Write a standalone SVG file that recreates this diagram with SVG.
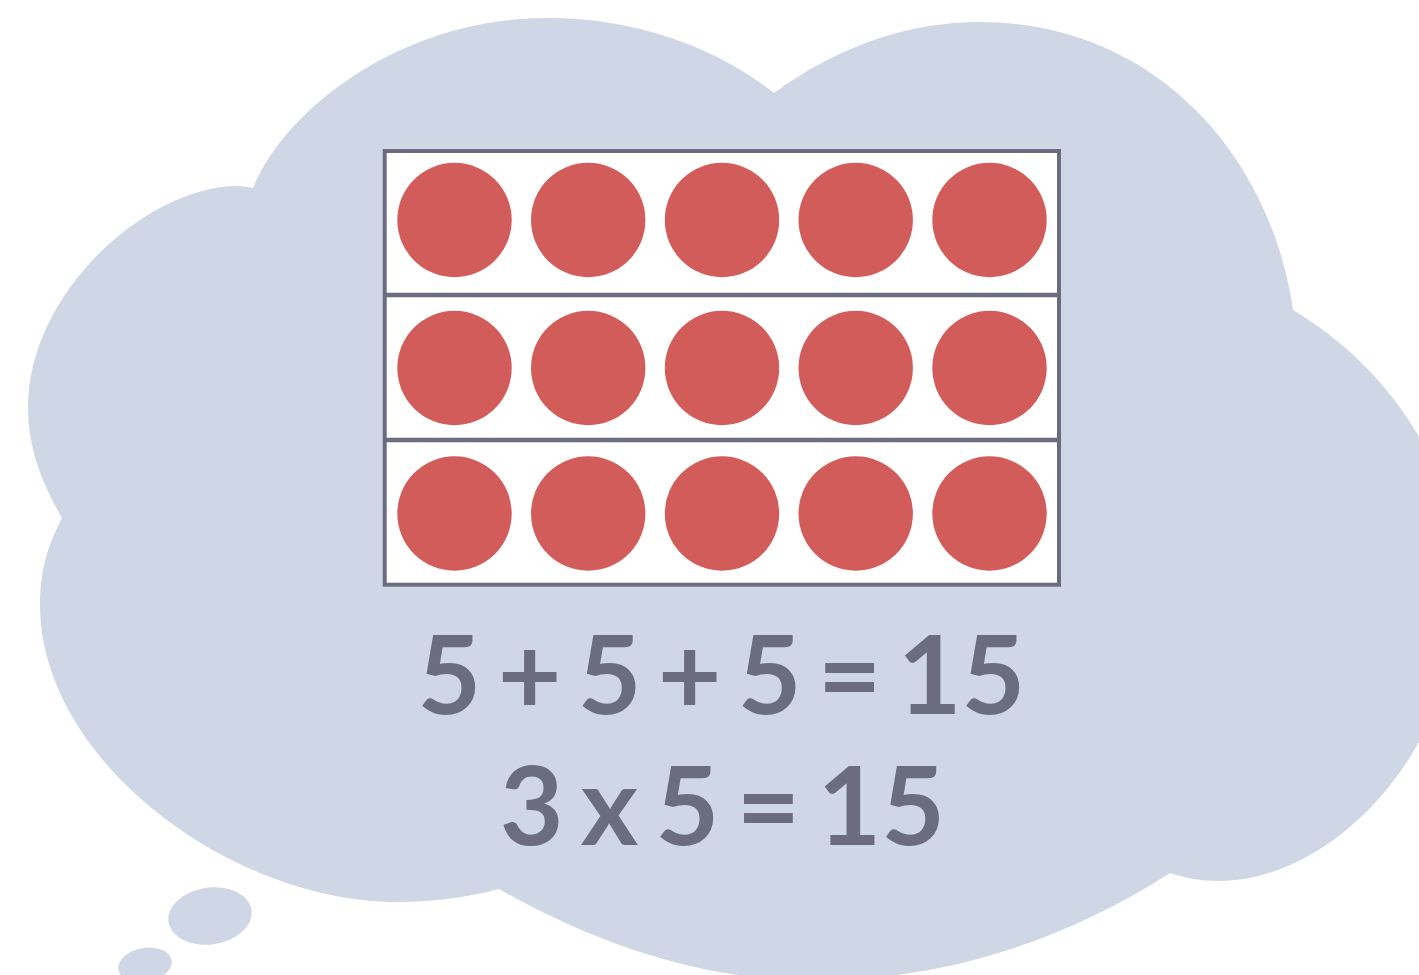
<svg xmlns="http://www.w3.org/2000/svg" width="1419" height="975" viewBox="0 0 1419 975">
<style>
.cloud{fill:#cfd6e5}
.dot{fill:#d25c59}
.frame{fill:#ffffff;stroke:#6b6c81;stroke-width:4}
.sep{stroke:#6b6c81;stroke-width:4.5}
.eq{font-family:Lato,"Liberation Sans",sans-serif;font-weight:700;font-size:110px;fill:#6b6c80;text-anchor:middle}
</style>
<rect width="1419" height="975" fill="#ffffff"/>
<g id="cloud">
<path class="cloud" d="M253,188 C285,110 400,18 548,18 C640,18 720,50 774,93 C840,45 910,22 980,22 C1150,22 1270,150 1293,310 C1380,362 1460,460 1460,590 C1460,740 1340,881 1218,881 C1200,881 1185,878 1170,873 C1050,950 920,985 790,980 C680,975 580,935 499,889 C465,898 430,902 398,902 C230,902 40,760 40,605 C40,570 48,545 62,518 C40,480 28,445 28,408 C28,290 150,186 237,186 C243,186 248,187 253,188 Z"/>
<ellipse class="cloud" cx="210" cy="916" rx="42" ry="28.5" transform="rotate(-8 210 916)"/>
<ellipse class="cloud" cx="145" cy="965" rx="27" ry="17" transform="rotate(-10 145 965)"/>
</g>
<g id="frame">
<rect class="frame" x="384.7" y="151" width="674.3" height="433.7"/>
<line class="sep" x1="384.7" y1="295" x2="1059" y2="295"/>
<line class="sep" x1="384.7" y1="440" x2="1059" y2="440"/>
</g>
<g id="row1">
<circle class="dot" cx="454.5" cy="220" r="57.2"/>
<circle class="dot" cx="588.2" cy="220" r="57.2"/>
<circle class="dot" cx="722" cy="220" r="57.2"/>
<circle class="dot" cx="855.7" cy="220" r="57.2"/>
<circle class="dot" cx="989.5" cy="220" r="57.2"/>
</g>
<g id="row2">
<circle class="dot" cx="454.5" cy="368" r="57.2"/>
<circle class="dot" cx="588.2" cy="368" r="57.2"/>
<circle class="dot" cx="722" cy="368" r="57.2"/>
<circle class="dot" cx="855.7" cy="368" r="57.2"/>
<circle class="dot" cx="989.5" cy="368" r="57.2"/>
</g>
<g id="row3">
<circle class="dot" cx="454.5" cy="513.5" r="57.2"/>
<circle class="dot" cx="588.2" cy="513.5" r="57.2"/>
<circle class="dot" cx="722" cy="513.5" r="57.2"/>
<circle class="dot" cx="855.7" cy="513.5" r="57.2"/>
<circle class="dot" cx="989.5" cy="513.5" r="57.2"/>
</g>
<g id="equations">
<text class="eq" x="721.5" y="714" word-spacing="-10.5">5 + 5 + 5 = 15</text>
<text class="eq" x="722.5" y="845" word-spacing="-9.5">3 x 5 = 15</text>
</g>
<g id="connectors"/>
</svg>
